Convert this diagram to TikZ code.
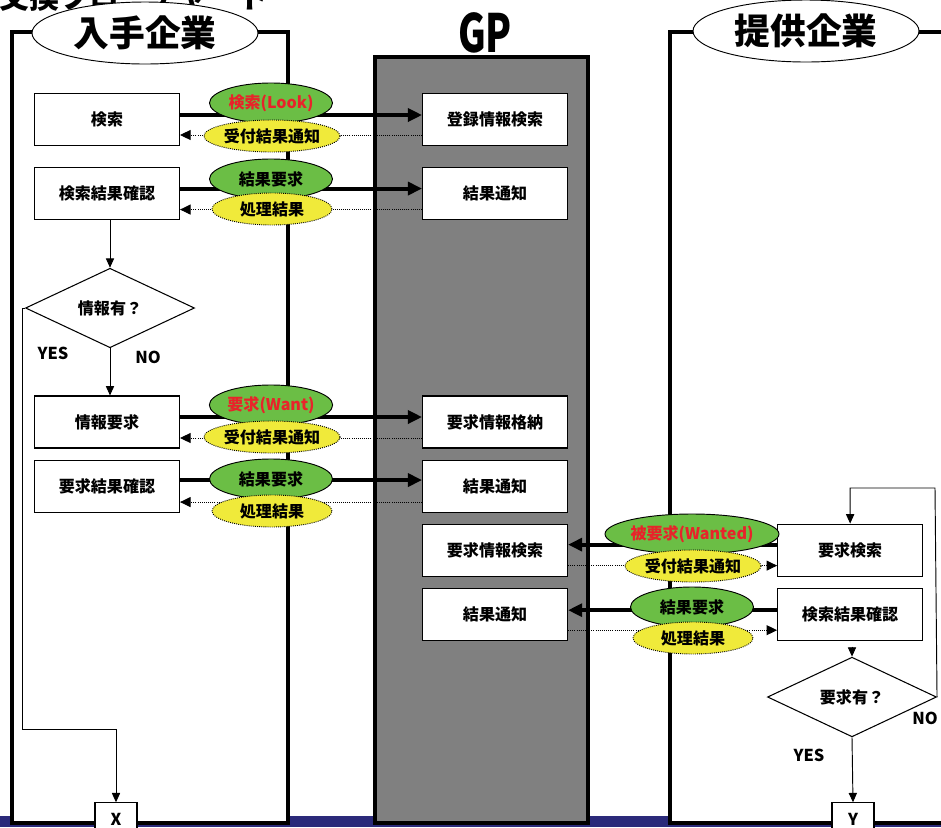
\documentclass[tikz,border=0pt]{standalone}
\usepackage{fontspec}
\setmainfont{Noto Sans CJK JP}
\usetikzlibrary{positioning, calc, arrows.meta, shapes.geometric}

\definecolor{reqGreen}{HTML}{6BBE45}
\definecolor{ansYellow}{HTML}{F0EA3A}
\definecolor{lookRed}{HTML}{E8232A}
\definecolor{gpGray}{HTML}{808080}
\definecolor{barBlue}{HTML}{2B2A7A}
\newcommand{\lblfont}{\bfseries\fontsize{13.7}{15}\selectfont}
\newcommand{\lanefont}{\bfseries\fontsize{30.5}{32}\selectfont}

\begin{document}
\begin{tikzpicture}[x=0.03cm,y=-0.03cm,
  box/.style={rectangle,draw,line width=0.9pt,fill=white,minimum width=4.35cm,minimum height=1.56cm,inner sep=0pt,font=\lblfont},
  ask/.style={diamond,draw,line width=0.9pt,fill=white,minimum width=5.07cm,minimum height=1.8cm,inner sep=0pt,font=\lblfont},
  lane/.style={draw,line width=2.6pt,fill=white},
  lanetitle/.style={ellipse,draw,line width=0.8pt,fill=white,minimum width=6.78cm,minimum height=1.86cm,inner sep=0pt,font=\lanefont},
  req/.style={ellipse,draw,line width=0.8pt,fill=reqGreen,minimum width=3.69cm,minimum height=1.2cm,inner sep=0pt,font=\lblfont},
  ans/.style={ellipse,draw,densely dotted,line width=0.8pt,fill=ansYellow,minimum width=3.6cm,minimum height=0.96cm,inner sep=0pt,font=\lblfont},
  send/.style={line width=3.4pt,-{Triangle[length=12pt,width=11pt]}},
  reply/.style={densely dotted,line width=0.8pt,-{Triangle[length=9pt,width=8.5pt]}},
  flow/.style={line width=0.8pt,-{Triangle[length=8pt,width=7pt]}},
  yn/.style={font=\bfseries\fontsize{14}{16}\selectfont},
  node distance=7.26cm]
\useasboundingbox (0,0) rectangle (941,827);
\clip (0,0) rectangle (941,827);

% lanes
\fill[barBlue] (0,816) rectangle (941,827);
\draw[lane] (12,32) rectangle (288,823);
\draw[lane,fill=gpGray,line width=3pt] (375,57) rectangle (588,823);
\draw[lane] (670,32) rectangle (960,823);
\node (head) [anchor=base west,inner sep=0pt,font=\bfseries\fontsize{25.6}{27}\selectfont] at (-1,8.5) {交換フローチャート};
\node (buyer) [lanetitle] at (145,33) {入手企業};
\node (seller) [lanetitle] at (806,31) {提供企業};
\node (gp) [font=\bfseries\fontsize{45}{46}\selectfont] at (485,33) {\scalebox{0.72}[1]{GP}};

% buyer side
\node (s1) [box] at (107,119.5) {検索};
\node (s2) [box,below=0.63cm of s1] {検索結果確認};
\node (q1) [ask] at (110,308) {情報有？};
\node (s3) [box] at (107,422) {情報要求};
\node (s4) [box,below=0.33cm of s3] {要求結果確認};
\node (xbox) [rectangle,draw,line width=0.9pt,fill=white,minimum width=1.26cm,minimum height=1cm,inner sep=0pt,yn] at (116,819.5) {X};
\node (yes1) [yn] at (53,353) {YES};
\node (no1) [yn] at (148,357) {NO};
\coordinate (yesturn) at (22,729);

% GP
\node (g1) [box,right=of s1] {登録情報検索};
\node (g2) [box,right=of s2] {結果通知};
\node (g3) [box,right=of s3] {要求情報格納};
\node (g4) [box,right=of s4] {結果通知};
\node (g5) [box,below=0.33cm of g4] {要求情報検索};
\node (g6) [box,below=0.33cm of g5] {結果通知};

% seller side
\node (r1) [box,right=6.27cm of g5] {要求検索};
\node (r2) [box,right=6.27cm of g6] {検索結果確認};
\node (q2) [ask] at (852,697) {要求有？};
\node (ybox) [rectangle,draw,line width=0.9pt,fill=white,minimum width=1.26cm,minimum height=1cm,inner sep=0pt,yn] at (853,819.5) {Y};
\node (yes2) [yn] at (809,755) {YES};
\node (no2) [yn] at (925,718) {NO};
\coordinate (looptop) at (935,488);

% messages
\draw[send] ($(s1.east)+(0,-4.5)$) -- ($(g1.west)+(0,-4.5)$);
\draw[reply] ($(g1.west)+(0,15.5)$) -- ($(s1.east)+(0,15.5)$);
\draw[send] ($(s2.east)+(0,-5)$) -- ($(g2.west)+(0,-5)$);
\draw[reply] ($(g2.west)+(0,16)$) -- ($(s2.east)+(0,16)$);
\draw[send] ($(s3.east)+(0,-5)$) -- ($(g3.west)+(0,-5)$);
\draw[reply] ($(g3.west)+(0,16)$) -- ($(s3.east)+(0,16)$);
\draw[send] ($(s4.east)+(0,-6)$) -- ($(g4.west)+(0,-6)$);
\draw[reply] ($(g4.west)+(0,16)$) -- ($(s4.east)+(0,16)$);
\draw[send] ($(r1.west)+(0,-5.5)$) -- ($(g5.east)+(0,-5.5)$);
\draw[reply] ($(g5.east)+(0,15.5)$) -- ($(r1.west)+(0,15.5)$);
\draw[send] ($(r2.west)+(0,-4)$) -- ($(g6.east)+(0,-4)$);
\draw[reply] ($(g6.east)+(0,16)$) -- ($(r2.west)+(0,16)$);

% flow
\draw[flow] (s2.south -| q1.north) -- (q1.north);
\draw[flow] (q1.south) -- (q1.south |- s3.north);
\draw[flow] (q1.west) -| (yesturn) -| (xbox.north);
\draw[flow] ($(r2.south -| q2.north)+(0,6)$) -- (q2.north);
\draw[flow] (q2.east) -- (looptop) -| (r1.north);
\draw[flow] (q2.south) -- (ybox.north);

% labels on the messages
\node (m1) [req,text=lookRed] at (271,103) {検索(Look)};
\node (a1) [ans] at (272,136) {受付結果通知};
\node (m2) [req] at (271,179) {結果要求};
\node (a2) [ans] at (272,209) {処理結果};
\node (m3) [req,text=lookRed] at (271,405) {要求(Want)};
\node (a3) [ans] at (272,437) {受付結果通知};
\node (m4) [req] at (271,479) {結果要求};
\node (a4) [ans] at (272,511) {処理結果};
\node (m5) [req,text=lookRed] at (692,534) {被要求(Wanted)};
\node (a5) [ans] at (693,566) {受付結果通知};
\node (m6) [req] at (692,607) {結果要求};
\node (a6) [ans] at (693,638) {処理結果};
\end{tikzpicture}
\end{document}
